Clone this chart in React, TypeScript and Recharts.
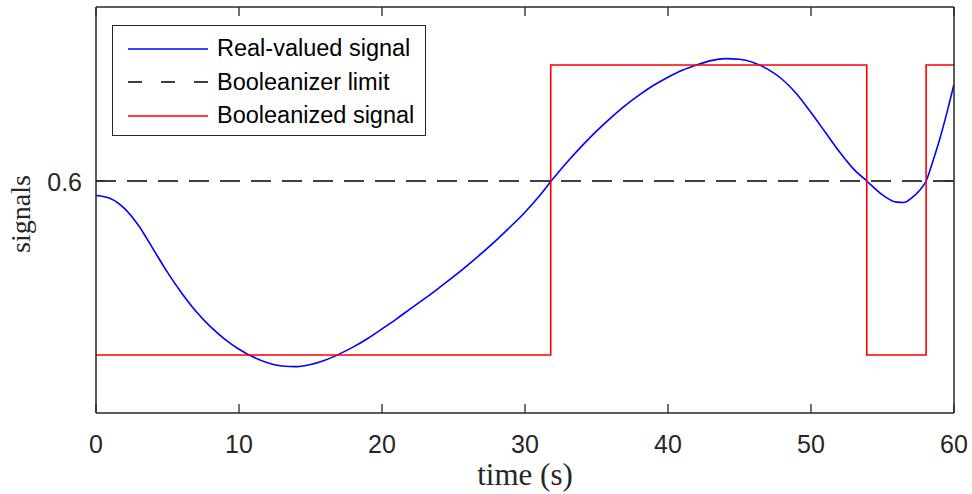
import { ComposedChart, Line, XAxis, YAxis } from 'recharts'

// real-valued signal
const realTimes = [0, 1, 2, 3, 4, 5, 6, 7, 8, 9, 10, 11, 12, 13, 14, 15, 16, 17, 18, 19, 20, 21, 22, 23, 24, 25, 26, 27, 28, 29, 30, 31, 32, 33, 34, 35, 36, 37, 38, 39, 40, 41, 42, 43, 44, 45, 46, 47, 48, 49, 50, 51, 52, 53, 53.9, 55, 56, 56.5, 57, 57.6, 58.05, 58.5, 59, 59.5, 60]
const realValues = [0.55, 0.54, 0.505, 0.445, 0.365, 0.285, 0.213, 0.15, 0.098, 0.055, 0.02, -0.007, -0.027, -0.038, -0.04, -0.033, -0.018, 0.003, 0.028, 0.057, 0.09, 0.124, 0.16, 0.195, 0.232, 0.27, 0.31, 0.352, 0.396, 0.443, 0.492, 0.548, 0.61, 0.668, 0.722, 0.772, 0.818, 0.86, 0.897, 0.93, 0.958, 0.982, 1.0, 1.015, 1.022, 1.02, 1.008, 0.985, 0.95, 0.9, 0.836, 0.768, 0.7, 0.64, 0.6, 0.552, 0.527, 0.526, 0.54, 0.568, 0.6, 0.665, 0.744, 0.835, 0.934]

// booleanized signal switch points
const boolTimes = [0, 31.8, 53.9, 58.05, 60]
const boolValues = [0, 1, 0, 1, 1]

const limitValue = 0.6
const xDomain: [number, number] = [0, 60]
const yDomain: [number, number] = [-0.2, 1.2]
const xTicks = [0, 10, 20, 30, 40, 50, 60]
const yTicks = [0.6]

const realData = realTimes.map((t, i) => ({ t, v: realValues[i] }))
const boolData = boolTimes.map((t, i) => ({ t, v: boolValues[i] }))
const limitData = xDomain.map((t) => ({ t, v: limitValue }))

const series = [
  { name: 'Real-valued signal', color: '#0000ff', dash: undefined },
  { name: 'Booleanizer limit', color: '#000000', dash: '14 19' },
  { name: 'Booleanized signal', color: '#ff0000', dash: undefined },
]

const axisColor = '#262626'
const tickFont = '"Liberation Sans", Arial, sans-serif'
const serifFont = '"Liberation Serif", "Times New Roman", serif'
const TICK = 9

function BottomTick({ x, y, payload }: any) {
  return (
    <g>
      <line x1={x} x2={x} y1={y} y2={y - TICK} stroke={axisColor} strokeWidth={1.3} />
      <text x={x} y={y + 40} textAnchor="middle" fontSize={25} fontFamily={tickFont} fill={axisColor}>
        {payload.value}
      </text>
    </g>
  )
}

function TopTick({ x, y }: any) {
  return <line x1={x} x2={x} y1={y} y2={y + TICK} stroke={axisColor} strokeWidth={1.3} />
}

function LeftTick({ x, y, payload }: any) {
  return (
    <g>
      <line x1={x} x2={x + TICK} y1={y} y2={y} stroke={axisColor} strokeWidth={1.3} />
      <text x={x - 14} y={y + 10} textAnchor="end" fontSize={25} fontFamily={tickFont} fill={axisColor}>
        {payload.value}
      </text>
    </g>
  )
}

function RightTick({ x, y }: any) {
  return <line x1={x} x2={x - TICK} y1={y} y2={y} stroke={axisColor} strokeWidth={1.3} />
}

function XLabel({ viewBox }: any) {
  const { x, y, width } = viewBox
  return (
    <text x={x + width / 2} y={y + 72} textAnchor="middle" fontSize={31} fontFamily={serifFont} fill={axisColor}>
      time (s)
    </text>
  )
}

function YLabel({ viewBox }: any) {
  const { x, y, height } = viewBox
  const cx = x + 30
  const cy = y + height / 2 + 4
  return (
    <text x={cx} y={cy} transform={`rotate(-90 ${cx} ${cy})`} textAnchor="middle" fontSize={28} fontFamily={serifFont} fill={axisColor}>
      signals
    </text>
  )
}

function LegendBox() {
  return (
    <div
      style={{
        position: 'absolute',
        left: 112,
        top: 25,
        width: 314,
        height: 111,
        border: `1.5px solid ${axisColor}`,
        background: '#fff',
        boxSizing: 'border-box',
        paddingTop: 6,
      }}
    >
      {series.map((s) => (
        <div key={s.name} style={{ display: 'flex', alignItems: 'center', height: 33.5 }}>
          <svg width={104} height={10} style={{ flex: 'none' }}>
            <line x1={15} x2={95} y1={5} y2={5} stroke={s.color} strokeWidth={1.6} strokeDasharray={s.dash} />
          </svg>
          <span style={{ fontFamily: tickFont, fontSize: 23.5, color: '#000', whiteSpace: 'nowrap' }}>{s.name}</span>
        </div>
      ))}
    </div>
  )
}

export default function App() {
  return (
    <div style={{ position: 'absolute', left: 0, top: 0, width: 972, height: 494, background: '#fff' }}>
      <ComposedChart width={972} height={494} margin={{ top: 6, right: 17, bottom: 0, left: 0 }}>
        <XAxis
          dataKey="t"
          type="number"
          domain={xDomain}
          ticks={xTicks}
          interval={0}
          allowDataOverflow
          height={81}
          tickSize={0}
          tickMargin={0}
          tickLine={false}
          tick={<BottomTick />}
          axisLine={{ stroke: axisColor, strokeWidth: 1.5 }}
          label={<XLabel />}
        />
        <XAxis
          xAxisId="top"
          orientation="top"
          dataKey="t"
          type="number"
          domain={xDomain}
          ticks={xTicks}
          interval={0}
          allowDataOverflow
          height={1}
          tickSize={0}
          tickMargin={0}
          tickLine={false}
          tick={<TopTick />}
          axisLine={{ stroke: axisColor, strokeWidth: 1.5 }}
        />
        <YAxis
          type="number"
          domain={yDomain}
          ticks={yTicks}
          interval={0}
          allowDataOverflow
          width={96}
          tickSize={0}
          tickMargin={0}
          tickLine={false}
          tick={<LeftTick />}
          axisLine={{ stroke: axisColor, strokeWidth: 1.5 }}
          label={<YLabel />}
        />
        <YAxis
          yAxisId="right"
          orientation="right"
          type="number"
          domain={yDomain}
          ticks={yTicks}
          interval={0}
          allowDataOverflow
          width={1}
          tickSize={0}
          tickMargin={0}
          tickLine={false}
          tick={<RightTick />}
          axisLine={{ stroke: axisColor, strokeWidth: 1.5 }}
        />
        <Line data={realData} dataKey="v" name={series[0].name} type="monotone" stroke={series[0].color} strokeWidth={1.6} dot={false} activeDot={false} isAnimationActive={false} />
        <Line xAxisId="top" yAxisId="right" data={limitData} dataKey="v" name={series[1].name} type="linear" stroke={series[1].color} strokeWidth={1.6} strokeDasharray="20 11" dot={false} activeDot={false} isAnimationActive={false} />
        <Line data={boolData} dataKey="v" name={series[2].name} type="stepAfter" stroke={series[2].color} strokeWidth={1.6} dot={false} activeDot={false} isAnimationActive={false} />
      </ComposedChart>
      <LegendBox />
    </div>
  )
}
